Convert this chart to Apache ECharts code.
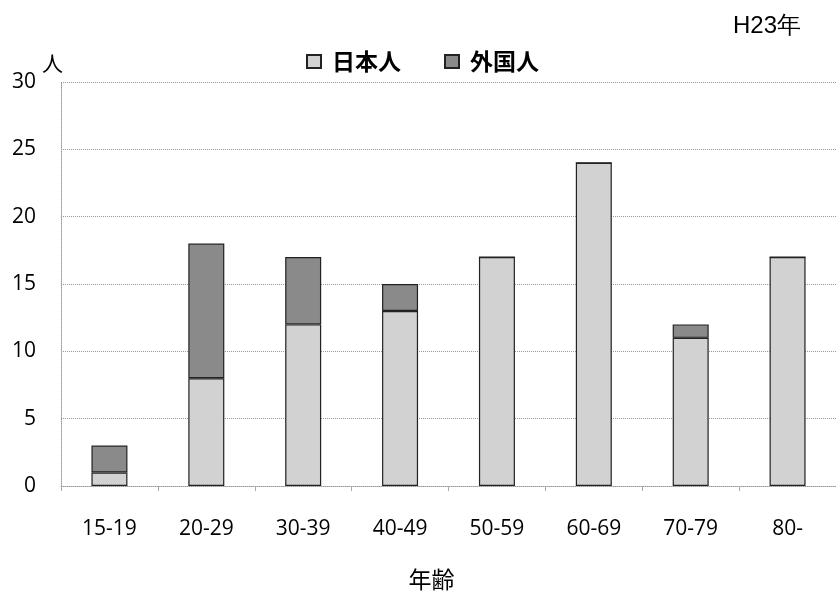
<!DOCTYPE html>
<html>
<head>
<meta charset="utf-8">
<script src="https://cdn.jsdelivr.net/npm/echarts@6/dist/echarts.min.js"></script>
<style>
  html, body { margin: 0; padding: 0; background: #ffffff; }
  #chart { width: 836px; height: 596px; }
</style>
</head>
<body>
<div id="chart"></div>
<script>
// Age groups and head counts (persons) for H23
const ageGroups = ['15-19', '20-29', '30-39', '40-49', '50-59', '60-69', '70-79', '80-'];
const japanese = [1, 8, 12, 13, 17, 24, 11, 17];
const foreign  = [2, 10, 5, 2, 0, 0, 1, 0];
const yTicks = { min: 0, max: 30, interval: 5 };

const numFont = '"Open Sans", "Noto Sans", sans-serif';
const cjkFont = '"Noto Sans CJK JP", "Noto Sans", sans-serif';

const chart = echarts.init(document.getElementById('chart'), null, { renderer: 'canvas' });

chart.setOption({
  backgroundColor: '#ffffff',
  animation: false,
  title: {
    text: 'H23年',
    right: 30,
    top: 9,
    textStyle: { fontFamily: '"Liberation Sans", Arial, sans-serif', fontSize: 24, fontWeight: 'normal', color: '#000' }
  },
  legend: {
    left: 301,
    top: 45,
    itemWidth: 14,
    itemHeight: 13,
    itemGap: 43,
    icon: 'rect',
    textStyle: { fontFamily: cjkFont, fontSize: 23, fontWeight: 'bold', color: '#000', padding: [0, 0, 0, 6] },
    data: ['日本人', '外国人']
  },
  grid: { left: 61, right: -7, top: 82, bottom: 108 },
  xAxis: {
    type: 'category',
    data: ageGroups,
    name: '年齢',
    nameLocation: 'middle',
    nameGap: 82,
    nameTextStyle: { fontFamily: cjkFont, fontSize: 23, color: '#000', padding: [0, 34, 0, 0] },
    axisLine: { lineStyle: { color: '#999', type: 'dotted', width: 1 } },
    axisTick: { show: true, length: 5, lineStyle: { color: '#aaa' } },
    axisLabel: { margin: 33, fontFamily: numFont, fontSize: 21, color: '#000' }
  },
  yAxis: {
    type: 'value',
    min: yTicks.min,
    max: yTicks.max,
    interval: yTicks.interval,
    name: '人',
    nameLocation: 'end',
    nameGap: 8,
    nameTextStyle: { fontFamily: cjkFont, fontSize: 21, color: '#000', align: 'right', padding: [0, -2, 0, 0] },
    axisLine: { show: true, lineStyle: { color: '#999', type: 'dotted', width: 1 } },
    axisTick: { show: false },
    axisLabel: { margin: 25, fontFamily: numFont, fontSize: 21, color: '#000' },
    splitLine: { lineStyle: { color: '#999', type: 'dotted', width: 1 } }
  },
  series: [
    {
      name: '日本人',
      type: 'bar',
      stack: 'total',
      barWidth: 36,
      data: japanese,
      itemStyle: { color: '#d2d2d2', borderColor: '#222', borderWidth: 1.2 }
    },
    {
      name: '外国人',
      type: 'bar',
      stack: 'total',
      barWidth: 36,
      data: foreign,
      itemStyle: { color: '#8a8a8a', borderColor: '#222', borderWidth: 1.2 }
    }
  ]
});
</script>
</body>
</html>
